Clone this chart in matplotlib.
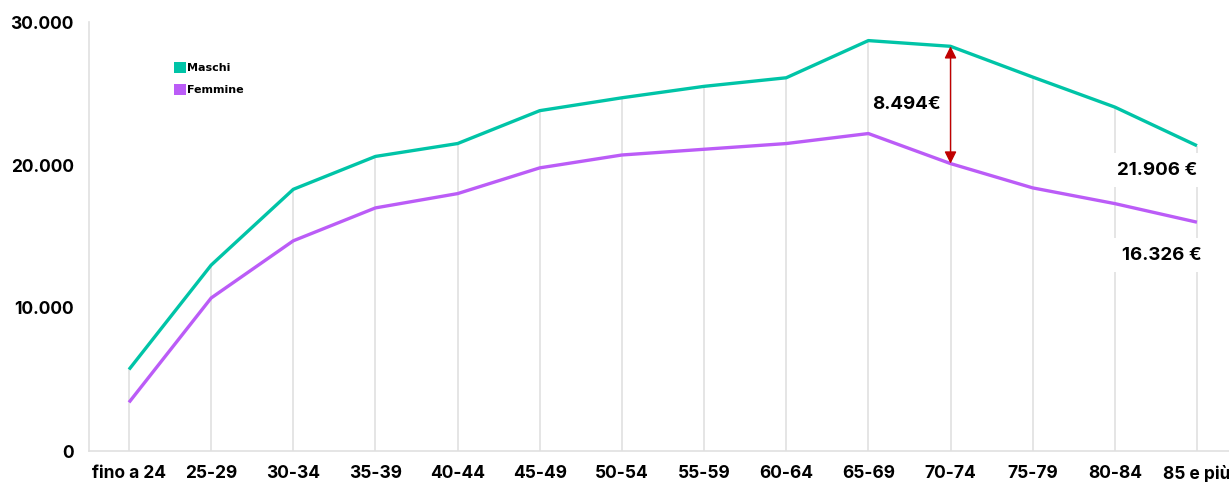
import matplotlib.pyplot as plt
from matplotlib.patches import Patch

# fasce di eta' e redditi medi (euro)
fasce = ['fino a 24', '25-29', '30-34', '35-39', '40-44', '45-49', '50-54',
         '55-59', '60-64', '65-69', '70-74', '75-79', '80-84', '85 e più']
maschi = [5700, 13000, 18300, 20600, 21500, 23800, 24700,
          25500, 26100, 28700, 28300, 26150, 24050, 21350]
femmine = [3400, 10700, 14700, 17000, 18000, 19800, 20700,
           21100, 21500, 22200, 20100, 18400, 17300, 16000]

yticks = [0, 10000, 20000, 30000]
ytick_labels = ['0', '10.000', '20.000', '30.000']

verde = '#00C4A7'
viola = '#BB5CF7'

fig = plt.figure(figsize=(12.29, 4.82), dpi=100)
ax = fig.add_axes([89/1229, 31/482, 1 - 89/1229, 429/482])

x = list(range(len(fasce)))

# linee verticali dall'asse fino alla curva dei maschi
ax.vlines(x, 0, maschi, color='#E0E0E0', lw=1.2, zorder=1)

ax.plot(x, maschi, color=verde, lw=2.4, zorder=3, solid_capstyle='butt')
ax.plot(x, femmine, color=viola, lw=2.4, zorder=3, solid_capstyle='butt')

# freccia differenza a 70-74
i = fasce.index('70-74')
ax.annotate('', xy=(i, femmine[i]), xytext=(i, maschi[i]),
            arrowprops=dict(arrowstyle='<|-|>', color='#C00000', lw=1,
                            mutation_scale=18, shrinkA=0, shrinkB=0), zorder=4)
ax.text(9.47, 24250, '8.494€', ha='center', va='center', fontsize=13.5,
        fontweight='bold', family='Inter', zorder=5)

bianco = dict(facecolor='white', edgecolor='none', pad=6)
ax.text(12.51, 19650, '21.906 €', ha='center', va='center', fontsize=13.5,
        fontweight='bold', family='Inter', bbox=bianco, zorder=5)
ax.text(12.57, 13700, '16.326 €', ha='center', va='center', fontsize=13.5,
        fontweight='bold', family='Inter', bbox=bianco, zorder=5)

ax.set_xlim(-0.487, 13.39)
ax.set_ylim(0, 30000)
ax.set_xticks(x)
ax.set_xticklabels(fasce)
ax.set_yticks(yticks)
ax.set_yticklabels(ytick_labels)
ax.tick_params(length=0)
for lab in ax.get_xticklabels() + ax.get_yticklabels():
    lab.set_fontweight('bold')
    lab.set_family('Inter')
    lab.set_fontsize(12.5)
ax.tick_params(axis='x', pad=10)
ax.tick_params(axis='y', pad=11)

for s in ['top', 'right']:
    ax.spines[s].set_visible(False)
for s in ['left', 'bottom']:
    ax.spines[s].set_color('#E0E0E0')
    ax.spines[s].set_linewidth(1.2)

maniglie = [Patch(facecolor=verde, label='Maschi'),
            Patch(facecolor=viola, label='Femmine')]
fig.legend(handles=maniglie, loc='upper left', bbox_to_anchor=(164/1229, 1 - 52/482),
           frameon=False, handlelength=1.1, handleheight=1.1, handletextpad=0.1,
           labelspacing=1.0, prop={'family': 'DejaVu Sans', 'weight': 'bold', 'size': 8})

fig.savefig('out.png', dpi=100)
